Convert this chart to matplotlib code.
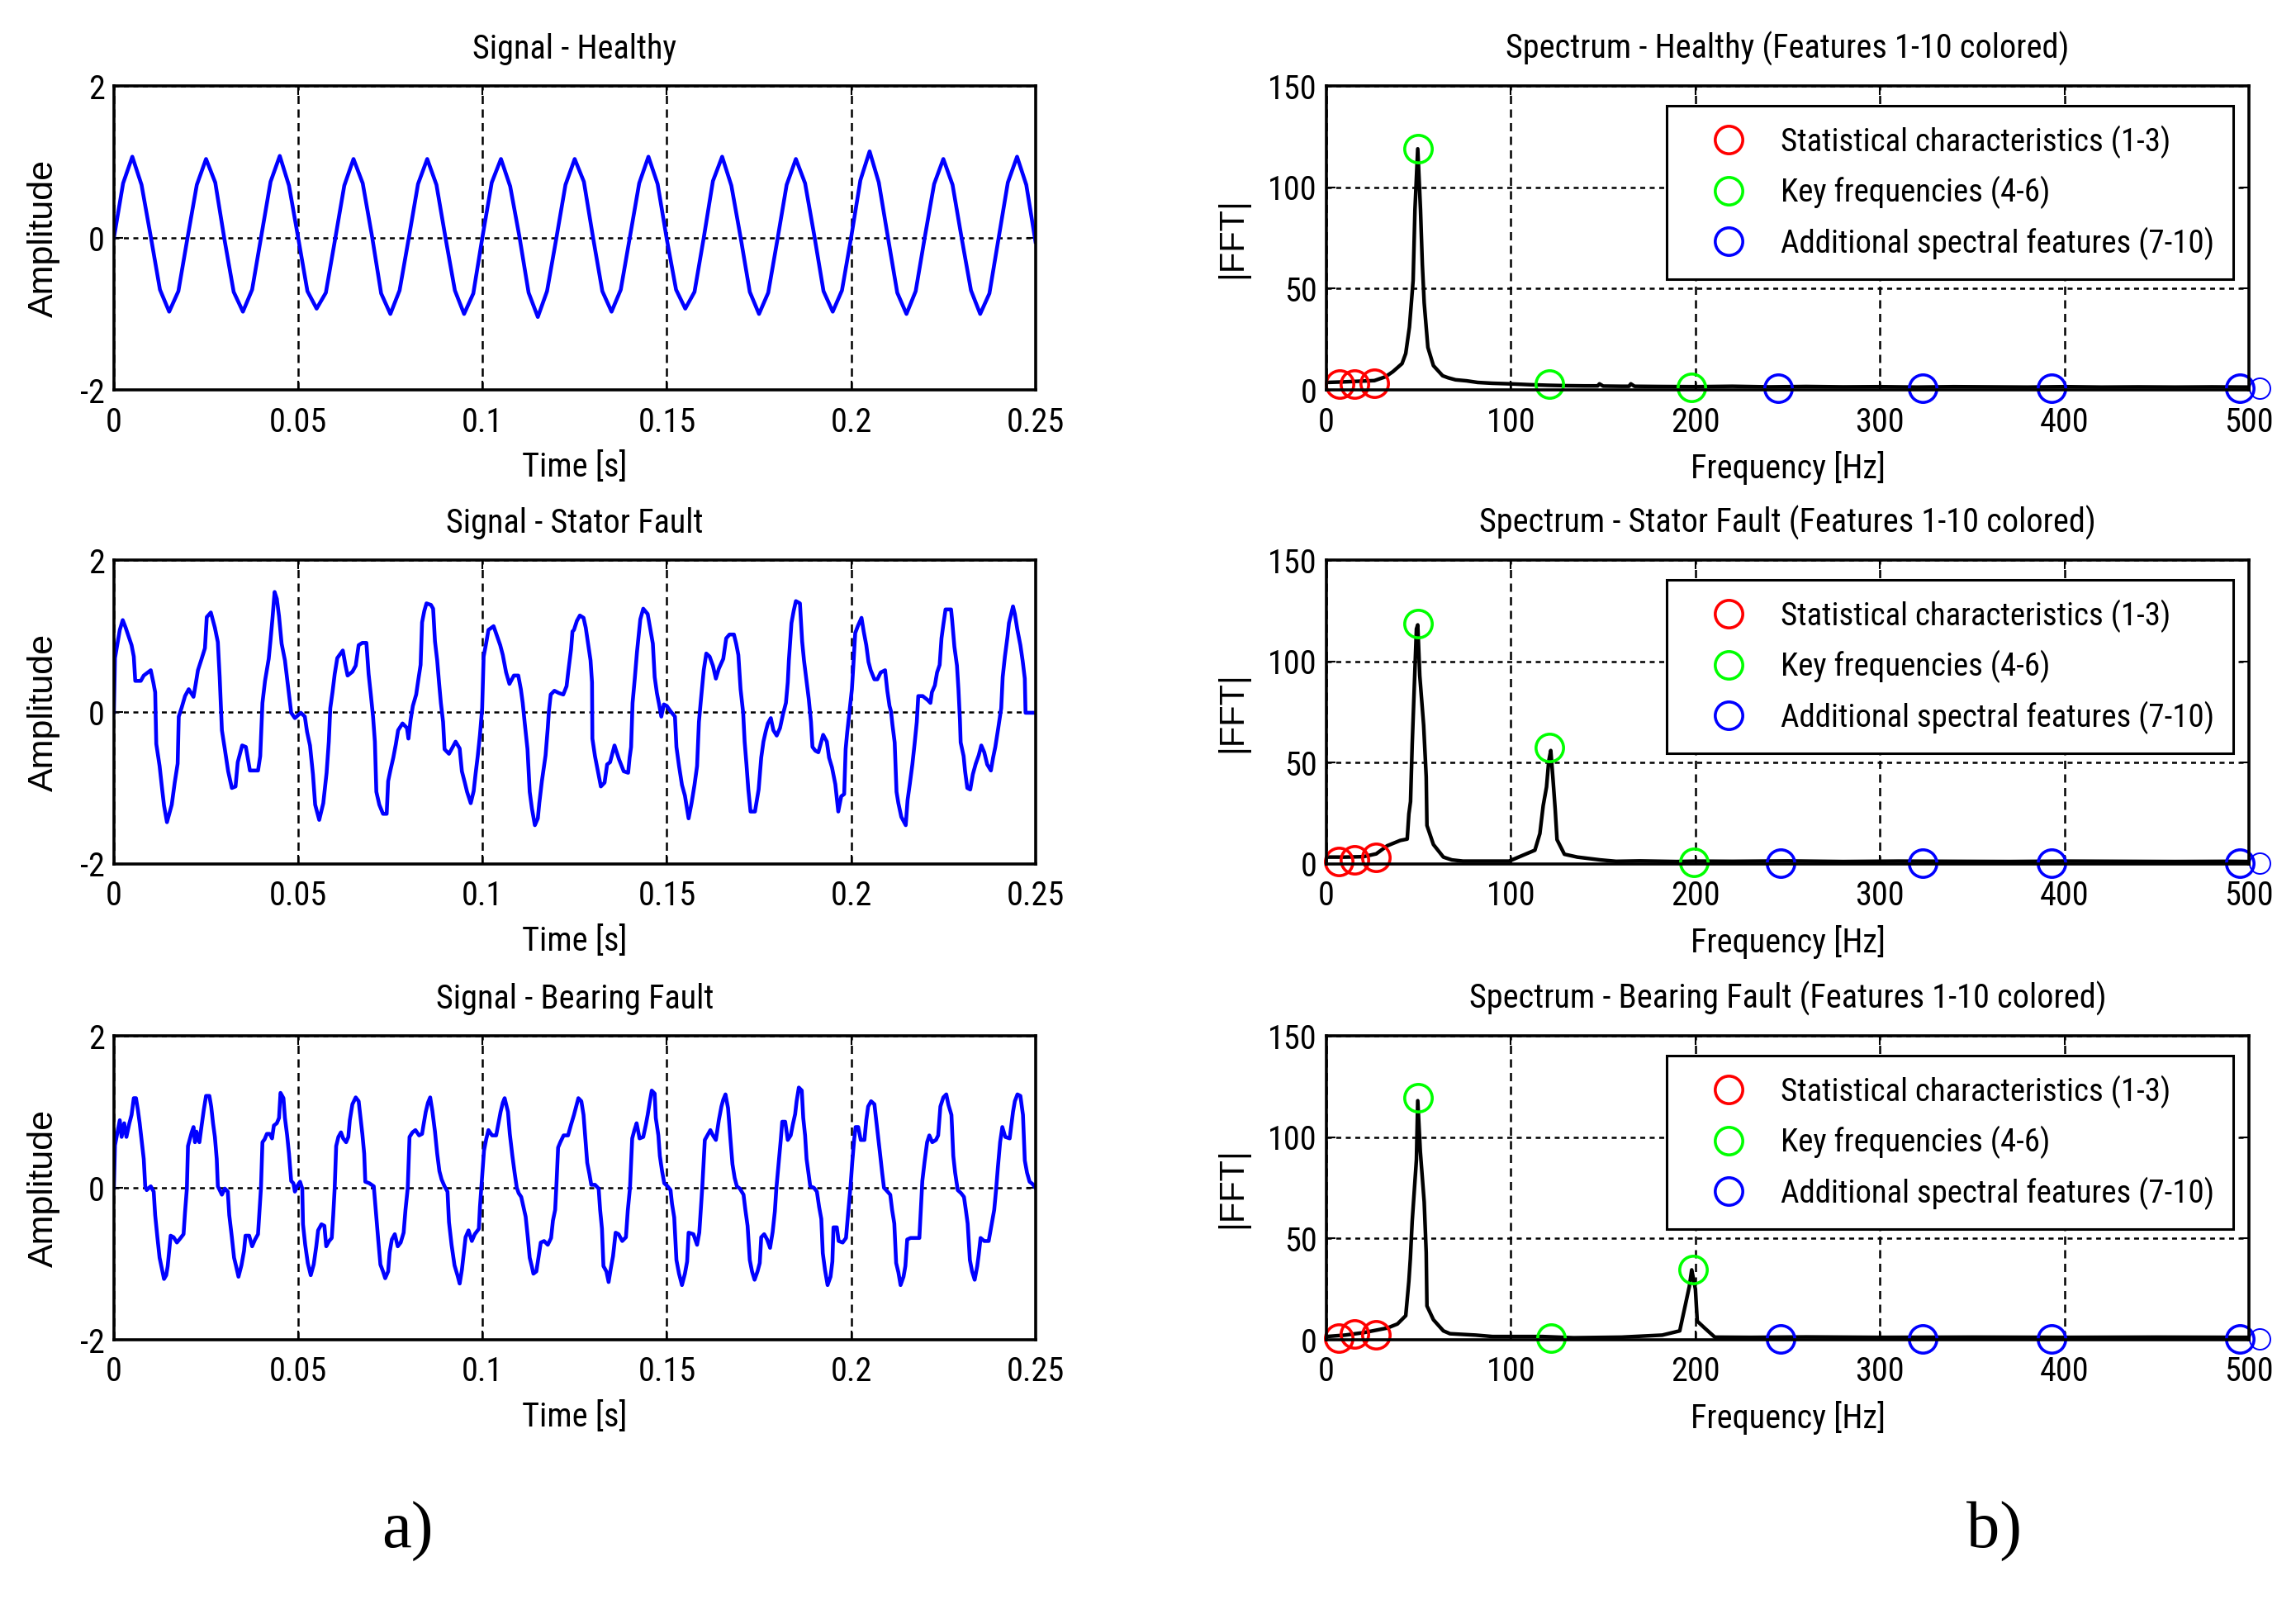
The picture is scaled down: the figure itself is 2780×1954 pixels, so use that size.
import numpy as np
import matplotlib
matplotlib.use("Agg")
import matplotlib.pyplot as plt
import matplotlib.font_manager as fm
from matplotlib.lines import Line2D

# ---------------- data ----------------
healthy_v = [0.00, 0.72, 1.07, 0.70, 0.02, -0.68, -0.97, -0.70,
             0.01, 0.70, 1.04, 0.73, -0.02, -0.71, -0.97, -0.68,
             0.03, 0.74, 1.08, 0.69, 0.00, -0.70, -0.93, -0.72,
             -0.02, 0.69, 1.04, 0.72, 0.03, -0.73, -1.00, -0.69,
             0.00, 0.71, 1.04, 0.70, -0.01, -0.69, -1.00, -0.73,
             0.02, 0.73, 1.04, 0.68, 0.02, -0.72, -1.04, -0.70,
             -0.01, 0.70, 1.04, 0.74, 0.00, -0.70, -0.97, -0.68,
             0.02, 0.72, 1.07, 0.71, -0.02, -0.68, -0.93, -0.71,
             0.00, 0.75, 1.07, 0.69, 0.01, -0.71, -1.00, -0.72,
             -0.02, 0.70, 1.04, 0.72, 0.03, -0.70, -0.97, -0.69,
             0.01, 0.76, 1.14, 0.73, 0.00, -0.72, -1.00, -0.70,
             0.02, 0.71, 1.04, 0.70, -0.01, -0.69, -1.00, -0.73,
             0.00, 0.73, 1.07, 0.70, -0.05]
healthy_t_ms = np.arange(len(healthy_v)) * 2.5

stator_t_ms = [0, 0.3, 1.6, 2.4, 3.2, 4.8, 5.4, 5.8, 7.3, 8.1, 10.0, 10.7, 11.2, 11.5, 12.4, 13.1, 13.6, 14.4, 15.7, 16.5,
               17.3, 17.6, 18.4, 19.3, 20.3, 21.6, 22.2, 22.8, 23.8, 24.7, 25.2, 26.3, 27.4, 28.2, 28.7, 29.3, 30.1, 31.0, 32.0, 33.0,
               33.6, 34.8, 35.8, 36.9, 39.1, 39.7, 40.3, 41.0, 42.0, 42.5, 43.0, 43.6, 44.2, 44.8, 45.5, 46.4, 47.3, 48.1, 49.1, 50.7,
               51.8, 52.4, 53.2, 54.0, 54.6, 55.7, 56.8, 57.7, 58.3, 58.7, 59.3, 59.9, 60.6, 62.1, 62.8, 63.4, 64.7, 65.6, 66.4, 67.4,
               68.5, 69.1, 69.7, 70.3, 70.8, 71.2, 72.0, 73.0, 74.0, 74.4, 75.0, 75.8, 76.5, 77.1, 78.3, 79.5, 79.9, 80.5, 81.1, 82.0,
               82.6, 83.2, 83.6, 84.2, 84.8, 86.0, 86.6, 87.1, 87.7, 88.2, 88.7, 89.3, 89.7, 90.9, 91.7, 92.7, 93.8, 94.4, 95.2, 95.8,
               96.8, 97.6, 98.1, 98.7, 99.3, 99.9, 100.3, 101.0, 101.6, 103.0, 104.0, 104.8, 105.5, 106.0, 106.4, 107.3, 108.5, 109.7, 110.4, 110.9,
               111.5, 112.2, 112.8, 113.4, 114.2, 115.0, 115.4, 116.1, 117.1, 117.7, 118.0, 118.5, 119.5, 120.7, 121.9, 122.8, 123.3, 124.0, 124.4, 124.8,
               125.6, 126.4, 127.4, 128.0, 128.6, 129.3, 129.7, 129.8, 130.5, 131.3, 132.1, 133.1, 133.8, 134.6, 135.8, 137.0, 138.3, 139.5, 139.9, 140.3,
               140.7, 141.3, 141.9, 142.8, 143.6, 144.8, 145.7, 146.2, 146.7, 147.3, 147.9, 148.5, 149.2, 150.0, 151.0, 152.2, 152.6, 153.3, 154.1, 154.9,
               155.9, 156.7, 157.5, 158.2, 158.7, 159.3, 160.0, 160.7, 161.6, 162.5, 163.3, 164.1, 165.3, 166.1, 167.0, 168.2, 168.8, 169.4, 170.0, 170.7,
               171.1, 171.6, 172.1, 172.7, 173.9, 174.9, 175.6, 176.2, 176.8, 177.4, 178.2, 178.9, 179.8, 180.7, 181.5, 182.3, 182.8, 183.1, 183.8, 184.4,
               185.0, 186.1, 186.7, 187.2, 187.9, 188.5, 189.1, 189.5, 190.3, 191.1, 192.4, 193.4, 194.0, 194.8, 195.7, 196.5, 197.3, 198.1, 198.5, 198.9,
               199.5, 200.2, 200.6, 201.1, 201.8, 202.8, 203.4, 204.1, 204.7, 205.3, 206.3, 207.1, 208.0, 209.2, 209.8, 210.4, 210.8, 211.2, 211.8, 212.3,
               212.8, 213.6, 214.8, 215.3, 215.9, 216.6, 217.2, 217.8, 218.2, 219.4, 220.7, 221.5, 221.9, 222.7, 223.3, 224.0, 224.5, 225.0, 225.6, 227.1,
               227.4, 228.0, 228.7, 229.1, 229.5, 229.7, 230.5, 230.9, 231.5, 232.3, 233.0, 233.8, 234.6, 235.3, 236.1, 236.9, 237.9, 238.5, 239.1, 239.9,
               240.7, 241.1, 241.7, 242.4, 242.8, 243.9, 244.4, 245.1, 245.9, 246.5, 247.1, 247.3, 250.0]
stator_v = [0, 0.71, 1.08, 1.21, 1.11, 0.88, 0.73, 0.41, 0.41, 0.48, 0.55, 0.39, 0.26, -0.42, -0.71, -1.02, -1.23, -1.45, -1.22, -0.93,
            -0.68, -0.06, 0.06, 0.21, 0.30, 0.20, 0.37, 0.55, 0.70, 0.84, 1.25, 1.31, 1.11, 0.92, 0.46, -0.24, -0.49, -0.78, -1.00, -0.98,
            -0.66, -0.44, -0.46, -0.77, -0.77, -0.58, 0.12, 0.41, 0.70, 0.95, 1.22, 1.58, 1.49, 1.26, 0.90, 0.68, 0.32, -0.01, -0.08, -0.01,
            -0.06, -0.26, -0.44, -0.82, -1.22, -1.42, -1.20, -0.80, -0.39, 0.05, 0.26, 0.50, 0.71, 0.81, 0.62, 0.48, 0.53, 0.61, 0.88, 0.91,
            0.91, 0.50, 0.23, -0.06, -0.39, -1.05, -1.22, -1.34, -1.34, -0.91, -0.77, -0.60, -0.42, -0.24, -0.15, -0.21, -0.35, -0.10, 0.08, 0.23,
            0.43, 0.62, 1.18, 1.33, 1.43, 1.41, 1.36, 0.93, 0.68, 0.39, 0.12, -0.13, -0.49, -0.55, -0.48, -0.39, -0.48, -0.78, -0.93, -1.05,
            -1.20, -1.04, -0.82, -0.58, -0.30, 0.05, 0.73, 0.91, 1.08, 1.13, 0.99, 0.88, 0.75, 0.62, 0.52, 0.37, 0.48, 0.48, 0.30, 0.12,
            -0.17, -0.49, -1.05, -1.27, -1.49, -1.40, -1.20, -0.91, -0.57, -0.21, 0.01, 0.23, 0.28, 0.25, 0.23, 0.34, 0.55, 0.82, 1.06, 1.08,
            1.20, 1.27, 1.24, 1.11, 0.91, 0.68, 0.39, -0.35, -0.58, -0.78, -0.98, -0.93, -0.69, -0.66, -0.44, -0.62, -0.78, -0.80, -0.60, -0.46,
            0.12, 0.44, 0.79, 1.22, 1.36, 1.29, 1.04, 0.90, 0.46, 0.25, 0.10, -0.06, 0.10, 0.08, 0.01, -0.06, -0.46, -0.71, -0.96, -1.10,
            -1.40, -1.20, -0.96, -0.71, -0.13, 0.19, 0.55, 0.77, 0.73, 0.61, 0.44, 0.57, 0.70, 0.97, 1.02, 1.02, 0.90, 0.75, 0.30, -0.01,
            -0.39, -0.69, -1.02, -1.31, -1.31, -1.02, -0.60, -0.39, -0.26, -0.15, -0.08, -0.24, -0.31, -0.21, -0.03, 0.12, 0.39, 0.68, 1.17, 1.33,
            1.46, 1.43, 0.93, 0.68, 0.41, 0.17, -0.13, -0.46, -0.51, -0.53, -0.30, -0.39, -0.60, -0.73, -0.95, -1.31, -1.11, -1.08, -0.49, -0.28,
            -0.01, 0.30, 0.62, 1.04, 1.13, 1.24, 1.06, 0.88, 0.66, 0.55, 0.43, 0.43, 0.52, 0.55, 0.28, 0.08, 0.01, -0.17, -0.40, -1.05,
            -1.20, -1.38, -1.49, -1.16, -0.95, -0.69, -0.42, -0.13, 0.21, 0.21, 0.16, 0.12, 0.26, 0.35, 0.52, 0.62, 0.97, 1.15, 1.35, 1.35,
            1.20, 0.86, 0.61, 0.30, -0.10, -0.40, -0.58, -0.78, -1.00, -1.02, -0.82, -0.68, -0.57, -0.44, -0.53, -0.69, -0.77, -0.60, -0.46, -0.21,
            0.05, 0.46, 0.73, 0.99, 1.17, 1.39, 1.29, 1.08, 0.88, 0.68, 0.44, -0.01, -0.01]

bearing_t_ms = [0, 0.3, 1.0, 1.6, 2.1, 2.8, 3.4, 4.2, 4.8, 5.4, 6.0, 6.5, 7.0, 7.5, 8.1, 8.5, 8.9, 10.0, 10.8, 11.2,
                11.8, 12.4, 13.0, 13.6, 14.2, 14.6, 15.0, 15.4, 16.2, 17.1, 18.1, 18.9, 19.3, 19.8, 20.1, 20.6, 21.1, 21.6, 22.0, 22.4,
                23.2, 23.8, 24.4, 25.0, 25.9, 26.4, 26.9, 27.4, 27.9, 28.2, 29.3, 30.1, 30.9, 31.3, 32.0, 32.6, 33.1, 33.8, 34.6, 35.3,
                35.7, 36.7, 37.5, 38.3, 39.1, 39.5, 39.9, 40.3, 40.9, 41.5, 42.3, 42.9, 43.4, 44.2, 44.8, 45.2, 46.0, 46.4, 47.0, 47.5,
                48.1, 48.7, 49.1, 49.7, 50.5, 51.1, 51.3, 51.9, 52.6, 53.4, 54.2, 54.9, 55.4, 56.3, 57.1, 57.6, 58.4, 59.1, 59.5, 59.9,
                60.3, 60.9, 61.6, 62.2, 63.0, 63.6, 64.0, 64.7, 65.6, 66.4, 66.9, 67.4, 67.9, 68.2, 69.3, 70.5, 71.2, 71.7, 72.3, 73.0,
                73.6, 74.4, 74.8, 75.4, 76.2, 77.0, 77.8, 78.6, 79.1, 79.7, 80.2, 81.0, 81.8, 82.8, 83.6, 84.0, 84.6, 85.2, 85.8, 86.4,
                87.1, 87.7, 88.3, 88.9, 89.7, 90.5, 90.9, 91.6, 92.4, 93.2, 93.8, 94.4, 94.9, 95.4, 96.2, 97.1, 97.9, 99.0, 99.3, 99.8,
                100.4, 101.0, 101.6, 102.6, 103.7, 104.2, 104.9, 105.5, 106.0, 106.9, 107.4, 108.1, 108.7, 109.3, 109.8, 110.5, 111.1, 111.7, 112.3, 112.8,
                113.4, 113.8, 114.6, 115.3, 115.8, 116.7, 117.7, 118.6, 119.1, 119.7, 120.1, 120.5, 121.1, 122.0, 123.2, 124.0, 124.8, 125.4, 126.0, 126.8,
                127.4, 127.9, 128.4, 129.0, 129.5, 130.5, 131.5, 131.9, 132.4, 132.8, 133.6, 134.2, 134.8, 135.4, 136.1, 136.9, 137.9, 138.9, 139.4, 140.0,
                140.6, 141.2, 141.8, 142.6, 143.6, 144.3, 144.8, 145.4, 145.9, 146.7, 147.0, 147.7, 148.1, 148.7, 149.3, 150.2, 151.0, 151.4, 152.0, 152.6,
                153.3, 154.1, 154.9, 155.5, 155.9, 157.2, 158.2, 158.8, 159.2, 159.6, 160.3, 161.0, 161.8, 162.5, 163.3, 164.1, 164.8, 165.3, 165.9, 166.6,
                167.2, 167.8, 168.4, 169.0, 169.8, 170.8, 171.3, 171.9, 172.5, 173.1, 173.8, 174.6, 175.2, 175.6, 176.4, 177.2, 178.0, 178.7, 179.3, 179.7,
                180.3, 180.9, 181.3, 182.1, 182.8, 183.6, 184.2, 184.8, 185.2, 185.8, 186.6, 187.0, 187.5, 187.9, 188.4, 188.9, 189.9, 190.7, 191.3, 191.9,
                192.3, 192.9, 193.6, 194.4, 194.9, 195.2, 196.1, 196.6, 197.7, 198.6, 199.2, 199.8, 200.3, 200.8, 201.2, 201.9, 202.6, 203.6, 204.1, 204.6,
                205.4, 206.3, 206.8, 207.3, 207.9, 208.4, 208.9, 209.5, 210.6, 211.1, 211.7, 212.2, 212.8, 213.4, 214.2, 214.7, 215.2, 216.1, 217.3, 218.5,
                218.9, 219.3, 219.9, 220.6, 221.2, 222.0, 223.0, 223.6, 224.2, 225.0, 225.8, 226.4, 227.2, 227.7, 228.2, 228.9, 229.8, 230.6, 231.1, 231.6,
                232.2, 232.8, 233.5, 234.2, 234.6, 235.1, 236.1, 237.3, 238.1, 238.8, 239.3, 239.8, 240.4, 241.0, 241.8, 243.0, 243.9, 244.4, 245.1, 245.9,
                246.6, 247.1, 247.7, 248.4, 249.2, 250.0]
bearing_v = [0, 0.56, 0.74, 0.89, 0.67, 0.85, 0.67, 0.85, 0.96, 1.18, 1.18, 1.03, 0.85, 0.64, 0.38, 0.02, -0.03, 0.02, -0.05, -0.36,
             -0.65, -0.92, -1.06, -1.20, -1.15, -1.03, -0.83, -0.63, -0.65, -0.72, -0.66, -0.61, -0.32, -0.01, 0.55, 0.64, 0.73, 0.80, 0.60, 0.74,
             0.60, 0.82, 1.03, 1.21, 1.21, 1.07, 0.85, 0.67, 0.38, 0.02, -0.09, -0.01, -0.05, -0.36, -0.65, -0.92, -1.02, -1.17, -1.02, -0.83,
             -0.63, -0.63, -0.77, -0.68, -0.61, -0.30, 0.00, 0.60, 0.64, 0.71, 0.71, 0.65, 0.82, 0.85, 0.92, 1.25, 1.18, 0.92, 0.69, 0.45,
             0.09, 0.06, -0.05, 0.02, 0.08, -0.01, -0.48, -0.75, -0.99, -1.15, -1.01, -0.77, -0.56, -0.48, -0.50, -0.77, -0.70, -0.66, -0.36, 0.00,
             0.55, 0.67, 0.73, 0.65, 0.60, 0.67, 0.89, 1.10, 1.19, 1.14, 0.92, 0.71, 0.45, 0.08, 0.06, 0.02, -0.39, -0.68, -1.01, -1.10,
             -1.19, -1.10, -0.85, -0.68, -0.61, -0.77, -0.72, -0.59, -0.29, -0.01, 0.67, 0.73, 0.76, 0.69, 0.71, 0.83, 1.00, 1.12, 1.19, 1.01,
             0.74, 0.45, 0.22, 0.11, 0.02, -0.05, -0.45, -0.75, -1.02, -1.15, -1.26, -1.08, -0.86, -0.65, -0.56, -0.70, -0.61, -0.54, -0.25, 0.09,
             0.49, 0.64, 0.76, 0.69, 0.69, 0.82, 1.00, 1.12, 1.18, 1.00, 0.71, 0.42, 0.20, 0.00, -0.07, -0.12, -0.25, -0.38, -0.66, -0.92,
             -1.04, -1.13, -1.10, -0.88, -0.72, -0.70, -0.75, -0.66, -0.43, -0.29, 0.09, 0.53, 0.60, 0.69, 0.69, 0.83, 0.96, 1.07, 1.18, 1.14,
             0.96, 0.64, 0.33, 0.18, 0.04, 0.04, -0.01, -0.29, -0.54, -1.03, -1.10, -1.24, -1.06, -0.90, -0.59, -0.61, -0.70, -0.65, -0.30, 0.00,
             0.65, 0.76, 0.85, 0.65, 0.67, 0.83, 0.96, 1.14, 1.28, 1.24, 0.92, 0.69, 0.42, 0.22, 0.06, 0.02, -0.03, -0.21, -0.39, -0.95,
             -1.13, -1.28, -1.13, -0.97, -0.59, -0.61, -0.75, -0.59, -0.29, 0.00, 0.63, 0.69, 0.76, 0.69, 0.63, 0.89, 1.07, 1.16, 1.23, 1.05,
             0.67, 0.31, 0.13, 0.02, -0.01, -0.09, -0.29, -0.50, -0.95, -1.10, -1.21, -1.10, -0.99, -0.65, -0.61, -0.68, -0.79, -0.58, -0.31, -0.01,
             0.31, 0.63, 0.87, 0.87, 0.63, 0.69, 0.84, 0.97, 1.14, 1.32, 1.28, 0.92, 0.69, 0.38, 0.20, 0.02, 0.00, -0.05, -0.25, -0.41,
             -0.86, -1.08, -1.28, -1.17, -0.97, -0.52, -0.52, -0.70, -0.72, -0.66, -0.32, 0.00, 0.34, 0.63, 0.80, 0.80, 0.63, 0.63, 0.89, 1.07,
             1.14, 1.10, 0.89, 0.67, 0.42, 0.20, 0.00, -0.03, -0.09, -0.29, -0.47, -0.99, -1.11, -1.28, -1.17, -1.03, -0.68, -0.66, -0.66, -0.66,
             -0.29, 0.09, 0.34, 0.60, 0.69, 0.60, 0.63, 0.69, 1.07, 1.19, 1.23, 1.09, 0.96, 0.42, 0.20, -0.03, -0.07, -0.12, -0.29, -0.47,
             -0.95, -1.10, -1.21, -1.03, -0.88, -0.66, -0.70, -0.70, -0.48, -0.29, -0.03, 0.27, 0.60, 0.80, 0.67, 0.65, 1.00, 1.14, 1.23, 1.21,
             0.96, 0.36, 0.20, 0.08, 0.05, 0.00]

time_ticks = [0, 0.05, 0.1, 0.15, 0.2, 0.25]
time_tick_labels = ['0', '0.05', '0.1', '0.15', '0.2', '0.25']
amp_ticks = [-2, 0, 2]
freq_ticks = [0, 100, 200, 300, 400, 500]
fft_ticks = [0, 50, 100, 150]

# spectra (frequency in Hz, |FFT|)
healthy_f = [0, 10, 20, 26, 32, 36, 41, 43, 45, 47, 48, 49.5, 51, 52, 53, 55, 58, 63, 66, 70, 76, 82, 90, 100, 110, 120,
             130, 140, 147, 148, 150, 160, 164, 165, 167, 180, 200, 220, 240, 260, 280, 300, 320, 340, 360, 380, 400,
             420, 440, 460, 480, 500]
healthy_m = [3.7, 4.0, 4.4, 4.6, 6.5, 9.0, 13.0, 18.0, 31.0, 54.0, 89.0, 119.0, 89.0, 62.0, 43.0, 21.0, 12.0, 7.0, 6.0, 5.0, 4.5, 3.7, 3.3, 3.0, 2.6, 2.3,
             2.1, 2.0, 2.0, 3.0, 1.9, 1.8, 1.8, 3.0, 1.8, 1.7, 1.6, 1.8, 1.5, 1.7, 1.5, 1.6, 1.4, 1.6, 1.5, 1.4, 1.6,
             1.4, 1.5, 1.4, 1.5, 1.4]
stator_f = [0, 10, 20, 27, 33, 40, 43.8, 44.7, 45.6, 46.5, 47.7, 48.8, 49.5, 50.6, 52.7, 54.1, 54.5, 58, 63.4, 68, 74, 90, 99,
            106, 113, 115.7, 117.5, 119.3, 120.5, 121.6, 122.8, 124, 125, 129, 136, 148.5, 157, 170, 190, 200, 220, 250, 280, 310,
            340, 370, 400, 430, 460, 490, 500]
stator_m = [3.4, 3.4, 3.6, 5.0, 9.0, 11.6, 12.3, 24.7, 30.8, 58.9, 89.0, 116.0, 118.0, 93.0, 68.5, 43.0, 19.0, 9.6, 3.4, 2.0, 1.4, 1.4, 1.4,
            4.1, 6.8, 15.0, 28.8, 38.0, 50.7, 56.0, 42.0, 27.0, 12.0, 4.8, 3.4, 2.0, 1.3, 1.5, 1.2, 1.4, 1.3, 1.5, 1.2, 1.4,
            1.3, 1.2, 1.4, 1.3, 1.2, 1.3, 1.2]
bearing_f = [0, 10, 20, 33, 38.5, 43, 44.7, 45.5, 46.5, 48.8, 49.5, 50.9, 53, 54.1, 54.5, 58, 63.4, 67, 81, 90, 117, 134,
             160, 182, 191.5, 194.1, 196.7, 198, 200, 201, 205, 210.5, 230, 260, 300, 350, 400, 450, 500]
bearing_m = [1.6, 2.3, 3.5, 5.8, 7.8, 11.9, 29.0, 40.0, 58.5, 89.0, 118.0, 93.0, 68.0, 43.0, 16.7, 9.9, 4.4, 3.0, 2.3, 1.6, 1.6, 1.0,
             1.3, 2.3, 4.4, 15.3, 26.3, 34.5, 25.0, 9.2, 5.8, 1.3, 1.2, 1.4, 1.2, 1.3, 1.2, 1.3, 1.2]

# feature markers: statistical (red), key frequencies (green), additional (blue)
healthy_red_f, healthy_red_m = [7, 15, 26], [3.0, 3.0, 3.2]
healthy_green_f, healthy_green_m = [49.5, 121, 198], [119, 2.7, 1.2]
healthy_blue_f, healthy_blue_m = [245, 323, 393, 495, 506], [1.0, 1.0, 1.0, 1.0, 1.0]
stator_red_f, stator_red_m = [6.6, 15.4, 27], [1.4, 2.1, 3.4]
stator_green_f, stator_green_m = [49.5, 121, 199], [118.5, 57.5, 0.7]
stator_blue_f, stator_blue_m = [246, 323, 393, 495, 506], [0.5, 0.5, 0.5, 0.5, 0.5]
bearing_red_f, bearing_red_m = [6.6, 15.4, 27], [1.0, 3.0, 2.3]
bearing_green_f, bearing_green_m = [49.5, 121.6, 198.6], [119.5, 1.0, 34.5]
bearing_blue_f, bearing_blue_m = [246, 323, 393, 495, 506], [0.5, 0.5, 0.5, 0.5, 0.5]

signal_titles = ['Signal - Healthy', 'Signal - Stator Fault', 'Signal - Bearing Fault']
spectrum_titles = ['Spectrum - Healthy (Features 1-10 colored)',
                   'Spectrum - Stator Fault (Features 1-10 colored)',
                   'Spectrum - Bearing Fault (Features 1-10 colored)']
legend_labels = ['Statistical characteristics (1-3)', 'Key frequencies (4-6)',
                 'Additional spectral features (7-10)']

# ---------------- fonts ----------------
names = {f.name for f in fm.fontManager.ttflist}
narrow = None
for cand in ['Liberation Sans Narrow', 'Arial Narrow', 'Roboto Condensed', 'Open Sans Condensed']:
    if cand in names:
        narrow = cand
        break
if narrow is not None:
    NFAM = [narrow, 'Liberation Sans', 'DejaVu Sans']
    FS, LFS = 29, 28
else:
    NFAM = ['Liberation Sans', 'DejaVu Sans']
    FS, LFS = 25, 24
WFAM = ['Liberation Sans', 'DejaVu Sans']
plt.rcParams['font.family'] = NFAM
plt.rcParams['axes.unicode_minus'] = False

# ---------------- figure ----------------
fig = plt.figure(figsize=(27.8, 19.54), dpi=100)
bottoms = [0.7584, 0.4647, 0.1699]
H = 0.1883
LX, LW = 0.0496, 0.4014
RX, RW = 0.5777, 0.4018

FRAME_LW = 2.6
GRID_LW = 1.8
VDASH = (0, (4.0, 2.6))
HDASH = (0, (2.4, 2.2))
SIG_LW = 3.3
SPEC_LW = 3.2


def style_axes(ax):
    for s in ax.spines.values():
        s.set_linewidth(FRAME_LW)
        s.set_color('black')
    ax.set_axisbelow(True)
    ax.xaxis.grid(True, linestyle=VDASH, linewidth=GRID_LW, color='black')
    ax.yaxis.grid(True, linestyle=HDASH, linewidth=GRID_LW, color='black')
    ax.tick_params(direction='in', length=8, width=1.5, top=True, right=True, labelsize=FS)
    ax.tick_params(axis='x', pad=14)
    ax.tick_params(axis='y', pad=8)


signals = [(healthy_t_ms, healthy_v), (stator_t_ms, stator_v), (bearing_t_ms, bearing_v)]
spectra = [(healthy_f, healthy_m, healthy_red_f, healthy_red_m, healthy_green_f, healthy_green_m, healthy_blue_f, healthy_blue_m),
           (stator_f, stator_m, stator_red_f, stator_red_m, stator_green_f, stator_green_m, stator_blue_f, stator_blue_m),
           (bearing_f, bearing_m, bearing_red_f, bearing_red_m, bearing_green_f, bearing_green_m, bearing_blue_f, bearing_blue_m)]

MS = 24
MEW = 2.6
RED, GREEN, BLUE = (1, 0, 0), (0, 1, 0), (0, 0, 1)

for i in range(3):
    # ----- signal -----
    ax = fig.add_axes([LX, bottoms[i], LW, H])
    t, v = signals[i]
    ax.plot(np.asarray(t) / 1000.0, v, color=BLUE, linewidth=SIG_LW)
    ax.set_xlim(0, 0.25)
    ax.set_ylim(-2, 2)
    ax.set_xticks(time_ticks)
    ax.set_xticklabels(time_tick_labels)
    ax.set_yticks(amp_ticks)
    style_axes(ax)
    ax.set_title(signal_titles[i], fontsize=FS, pad=24)
    ax.set_xlabel('Time [s]', fontsize=FS)
    ax.xaxis.set_label_coords(0.5, -0.20)
    ax.set_ylabel('Amplitude', fontsize=31, family=WFAM)
    ax.yaxis.set_label_coords(-0.058, 0.5)

    # ----- spectrum -----
    ax2 = fig.add_axes([RX, bottoms[i], RW, H])
    f, m, rf, rm, gf, gm, bf, bm = spectra[i]
    ax2.plot(f, m, color='black', linewidth=SPEC_LW)
    ax2.plot(rf, rm, linestyle='none', marker='o', mfc='none', mec=RED, ms=MS, mew=MEW, clip_on=False)
    ax2.plot(gf, gm, linestyle='none', marker='o', mfc='none', mec=GREEN, ms=MS, mew=MEW, clip_on=False)
    ax2.plot(bf[:-1], bm[:-1], linestyle='none', marker='o', mfc='none', mec=BLUE, ms=MS, mew=MEW, clip_on=False)
    ax2.plot(bf[-1:], bm[-1:], linestyle='none', marker='o', mfc='none', mec=BLUE, ms=MS - 6, mew=1.4, clip_on=False)
    ax2.set_xlim(0, 500)
    ax2.set_ylim(0, 150)
    ax2.set_xticks(freq_ticks)
    ax2.set_yticks(fft_ticks)
    style_axes(ax2)
    ax2.set_title(spectrum_titles[i], fontsize=FS, pad=24)
    ax2.set_xlabel('Frequency [Hz]', fontsize=FS)
    ax2.xaxis.set_label_coords(0.5, -0.20)
    ax2.set_ylabel('|FFT|', fontsize=30, family=WFAM)
    ax2.yaxis.set_label_coords(-0.084, 0.5)

    handles = [Line2D([], [], linestyle='none', marker='o', mfc='none', mec=c, ms=MS, mew=MEW)
               for c in (RED, GREEN, BLUE)]
    leg = ax2.legend(handles, legend_labels, loc='upper right', bbox_to_anchor=(0.983, 0.935),
                     fontsize=LFS, frameon=True, fancybox=False, framealpha=1.0, edgecolor='black',
                     borderpad=0.6, labelspacing=0.55, handlelength=2.7, handletextpad=0.25,
                     borderaxespad=0.0)
    leg.get_frame().set_linewidth(2.2)

fig.text(0.1773, 0.0507, 'a)', fontsize=58, family=['Liberation Serif', 'DejaVu Serif'],
         ha='center', va='center')
fig.text(0.8687, 0.0507, 'b)', fontsize=58, family=['Liberation Serif', 'DejaVu Serif'],
         ha='center', va='center')

fig.savefig('out.png', dpi=100, facecolor='white')
